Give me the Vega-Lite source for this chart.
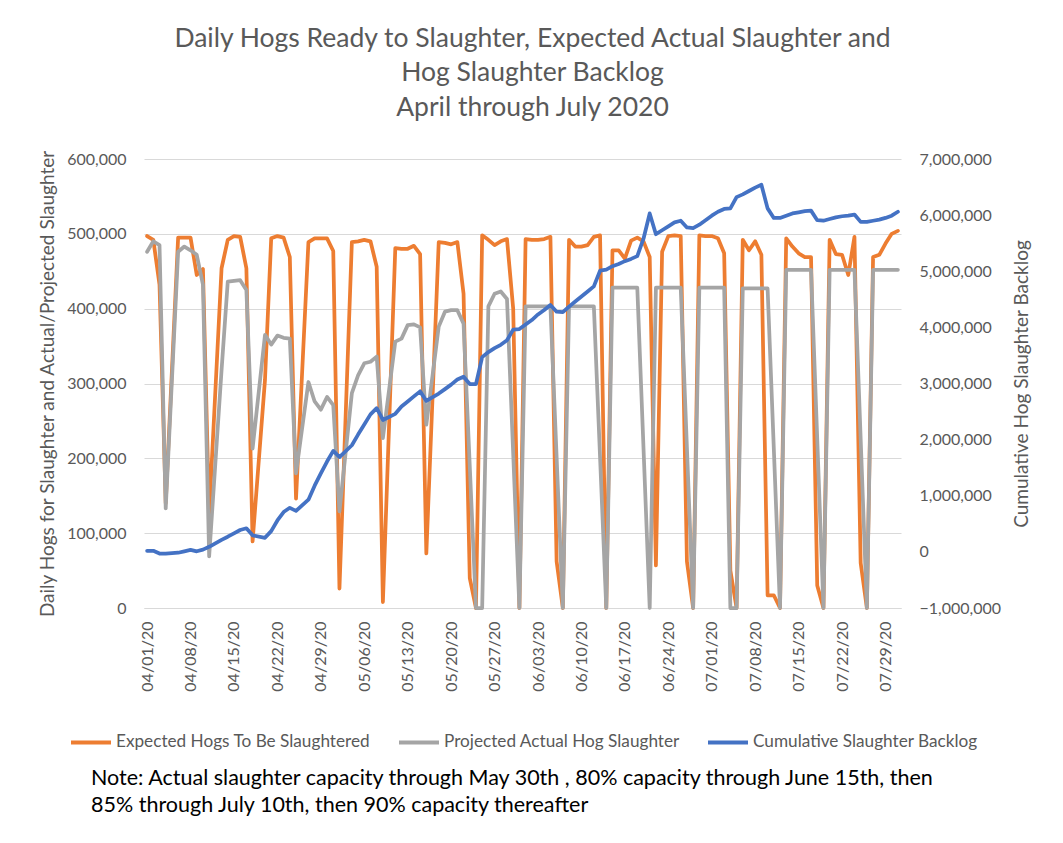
{
  "$schema": "https://vega.github.io/schema/vega-lite/v6.json",
  "width": 757,
  "height": 449,
  "autosize": {"type": "none"},
  "padding": {"left": 144, "top": 159, "right": 162, "bottom": 235},
  "background": "#ffffff",
  "title": {
    "text": ["Daily Hogs Ready to Slaughter, Expected Actual Slaughter and", "Hog Slaughter Backlog", "April through July 2020"],
    "font": "Lato",
    "fontSize": 26.5,
    "fontWeight": "normal",
    "color": "#595959",
    "lineHeight": 34.5,
    "offset": 28,
    "anchor": "middle",
    "dx": 10
  },
  "config": {
    "view": {"stroke": null},
    "font": "Lato",
    "axis": {
      "labelFont": "Lato",
      "titleFont": "Lato",
      "labelFontSize": 16,
      "labelColor": "#595959",
      "titleFontSize": 19,
      "titleColor": "#595959",
      "titleFontWeight": "normal",
      "ticks": false,
      "domain": false,
      "grid": false
    }
  },
  "data": {
    "values": [
      {"date": "2020-04-01T00:00", "exp": 497000, "act": 476000, "backlog": 20000},
      {"date": "2020-04-02T00:00", "exp": 492000, "act": 490000, "backlog": 20000},
      {"date": "2020-04-03T00:00", "exp": 432000, "act": 485000, "backlog": -30000},
      {"date": "2020-04-04T00:00", "exp": 140000, "act": 133000, "backlog": -30000},
      {"date": "2020-04-06T00:00", "exp": 495000, "act": 476000, "backlog": -15000},
      {"date": "2020-04-07T00:00", "exp": 495000, "act": 483000, "backlog": 10000},
      {"date": "2020-04-08T00:00", "exp": 495000, "act": 478000, "backlog": 35000},
      {"date": "2020-04-09T00:00", "exp": 445000, "act": 472000, "backlog": 10000},
      {"date": "2020-04-10T00:00", "exp": 453000, "act": 432000, "backlog": 40000},
      {"date": "2020-04-11T00:00", "exp": 125000, "act": 69000, "backlog": 90000},
      {"date": "2020-04-13T00:00", "exp": 454000, "act": 318000, "backlog": 215000},
      {"date": "2020-04-14T00:00", "exp": 492000, "act": 436000, "backlog": 270000},
      {"date": "2020-04-15T00:00", "exp": 497000, "act": 437000, "backlog": 330000},
      {"date": "2020-04-16T00:00", "exp": 496000, "act": 438000, "backlog": 390000},
      {"date": "2020-04-17T00:00", "exp": 454000, "act": 425000, "backlog": 420000},
      {"date": "2020-04-18T00:00", "exp": 89000, "act": 213000, "backlog": 295000},
      {"date": "2020-04-20T00:00", "exp": 305000, "act": 365000, "backlog": 250000},
      {"date": "2020-04-21T00:00", "exp": 494000, "act": 352000, "backlog": 370000},
      {"date": "2020-04-22T00:00", "exp": 497000, "act": 364000, "backlog": 560000},
      {"date": "2020-04-23T00:00", "exp": 495000, "act": 361000, "backlog": 710000},
      {"date": "2020-04-24T00:00", "exp": 469000, "act": 360000, "backlog": 785000},
      {"date": "2020-04-25T00:00", "exp": 146000, "act": 180000, "backlog": 730000},
      {"date": "2020-04-27T00:00", "exp": 489000, "act": 302000, "backlog": 930000},
      {"date": "2020-04-28T00:00", "exp": 494000, "act": 276000, "backlog": 1180000},
      {"date": "2020-04-29T00:00", "exp": 494000, "act": 265000, "backlog": 1400000},
      {"date": "2020-04-30T00:00", "exp": 494000, "act": 282000, "backlog": 1610000},
      {"date": "2020-05-01T00:00", "exp": 477000, "act": 271000, "backlog": 1800000},
      {"date": "2020-05-02T00:00", "exp": 26000, "act": 129000, "backlog": 1690000},
      {"date": "2020-05-04T00:00", "exp": 489000, "act": 287000, "backlog": 1900000},
      {"date": "2020-05-05T00:00", "exp": 490000, "act": 311000, "backlog": 2090000},
      {"date": "2020-05-06T00:00", "exp": 492000, "act": 327000, "backlog": 2270000},
      {"date": "2020-05-07T00:00", "exp": 490000, "act": 329000, "backlog": 2450000},
      {"date": "2020-05-08T00:00", "exp": 456000, "act": 336000, "backlog": 2560000},
      {"date": "2020-05-09T00:00", "exp": 8000, "act": 227000, "backlog": 2350000},
      {"date": "2020-05-11T00:00", "exp": 481000, "act": 356000, "backlog": 2460000},
      {"date": "2020-05-12T00:00", "exp": 480000, "act": 360000, "backlog": 2590000},
      {"date": "2020-05-13T00:00", "exp": 480000, "act": 378000, "backlog": 2680000},
      {"date": "2020-05-14T00:00", "exp": 484000, "act": 379000, "backlog": 2770000},
      {"date": "2020-05-15T00:00", "exp": 473000, "act": 375000, "backlog": 2860000},
      {"date": "2020-05-16T00:00", "exp": 73000, "act": 245000, "backlog": 2690000},
      {"date": "2020-05-18T00:00", "exp": 489000, "act": 376000, "backlog": 2820000},
      {"date": "2020-05-19T00:00", "exp": 488000, "act": 396000, "backlog": 2900000},
      {"date": "2020-05-20T00:00", "exp": 486000, "act": 398000, "backlog": 2980000},
      {"date": "2020-05-21T00:00", "exp": 489000, "act": 398000, "backlog": 3070000},
      {"date": "2020-05-22T00:00", "exp": 420000, "act": 380000, "backlog": 3120000},
      {"date": "2020-05-23T00:00", "exp": 40000, "act": null, "backlog": 2990000},
      {"date": "2020-05-24T00:00", "exp": 0, "act": 0, "backlog": 2990000},
      {"date": "2020-05-25T00:00", "exp": 498000, "act": 0, "backlog": 3470000},
      {"date": "2020-05-26T00:00", "exp": 492000, "act": 403000, "backlog": 3560000},
      {"date": "2020-05-27T00:00", "exp": 485000, "act": 420000, "backlog": 3630000},
      {"date": "2020-05-28T00:00", "exp": 490000, "act": 423000, "backlog": 3690000},
      {"date": "2020-05-29T00:00", "exp": 493000, "act": 413000, "backlog": 3770000},
      {"date": "2020-05-30T00:00", "exp": 400000, "act": null, "backlog": 3960000},
      {"date": "2020-05-31T00:00", "exp": 0, "act": 0, "backlog": 3970000},
      {"date": "2020-06-01T00:00", "exp": 493000, "act": 403000, "backlog": 4050000},
      {"date": "2020-06-02T00:00", "exp": 492000, "act": 403000, "backlog": 4130000},
      {"date": "2020-06-03T00:00", "exp": 492000, "act": 403000, "backlog": 4230000},
      {"date": "2020-06-04T00:00", "exp": 493000, "act": 403000, "backlog": 4310000},
      {"date": "2020-06-05T00:00", "exp": 496000, "act": 403000, "backlog": 4400000},
      {"date": "2020-06-06T00:00", "exp": 62000, "act": null, "backlog": 4280000},
      {"date": "2020-06-07T00:00", "exp": 0, "act": 0, "backlog": 4270000},
      {"date": "2020-06-08T00:00", "exp": 492000, "act": 403000, "backlog": 4370000},
      {"date": "2020-06-09T00:00", "exp": 483000, "act": 403000, "backlog": 4460000},
      {"date": "2020-06-10T00:00", "exp": 483000, "act": 403000, "backlog": 4550000},
      {"date": "2020-06-11T00:00", "exp": 485000, "act": 403000, "backlog": 4640000},
      {"date": "2020-06-12T00:00", "exp": 496000, "act": 403000, "backlog": 4730000},
      {"date": "2020-06-13T00:00", "exp": 498000, "act": null, "backlog": 5010000},
      {"date": "2020-06-14T00:00", "exp": 0, "act": 0, "backlog": 5030000},
      {"date": "2020-06-15T00:00", "exp": 478000, "act": 428000, "backlog": 5090000},
      {"date": "2020-06-16T00:00", "exp": 478000, "act": 428000, "backlog": 5130000},
      {"date": "2020-06-17T00:00", "exp": 467000, "act": 428000, "backlog": 5180000},
      {"date": "2020-06-18T00:00", "exp": 491000, "act": 428000, "backlog": 5220000},
      {"date": "2020-06-19T00:00", "exp": 495000, "act": 428000, "backlog": 5270000},
      {"date": "2020-06-20T00:00", "exp": 490000, "act": null, "backlog": 5580000},
      {"date": "2020-06-21T00:00", "exp": 469000, "act": 0, "backlog": 6030000},
      {"date": "2020-06-22T00:00", "exp": 57000, "act": 428000, "backlog": 5660000},
      {"date": "2020-06-23T00:00", "exp": 476000, "act": 428000, "backlog": 5730000},
      {"date": "2020-06-24T00:00", "exp": 497000, "act": 428000, "backlog": 5800000},
      {"date": "2020-06-25T00:00", "exp": 498000, "act": 428000, "backlog": 5870000},
      {"date": "2020-06-26T00:00", "exp": 497000, "act": 428000, "backlog": 5900000},
      {"date": "2020-06-27T00:00", "exp": 62000, "act": null, "backlog": 5780000},
      {"date": "2020-06-28T00:00", "exp": 0, "act": 0, "backlog": 5770000},
      {"date": "2020-06-29T00:00", "exp": 498000, "act": 428000, "backlog": 5830000},
      {"date": "2020-06-30T00:00", "exp": 497000, "act": 428000, "backlog": 5910000},
      {"date": "2020-07-01T00:00", "exp": 497000, "act": 428000, "backlog": 5990000},
      {"date": "2020-07-02T00:00", "exp": 494000, "act": 428000, "backlog": 6060000},
      {"date": "2020-07-03T00:00", "exp": 474000, "act": 428000, "backlog": 6110000},
      {"date": "2020-07-04T00:00", "exp": 50000, "act": 0, "backlog": 6120000},
      {"date": "2020-07-05T00:00", "exp": 0, "act": 0, "backlog": 6320000},
      {"date": "2020-07-06T00:00", "exp": 492000, "act": 427000, "backlog": 6370000},
      {"date": "2020-07-07T00:00", "exp": 478000, "act": 427000, "backlog": 6430000},
      {"date": "2020-07-08T00:00", "exp": 490000, "act": 427000, "backlog": 6490000},
      {"date": "2020-07-09T00:00", "exp": 472000, "act": 427000, "backlog": 6540000},
      {"date": "2020-07-10T00:00", "exp": 17000, "act": 427000, "backlog": 6120000},
      {"date": "2020-07-11T00:00", "exp": 17000, "act": null, "backlog": 5950000},
      {"date": "2020-07-12T00:00", "exp": 0, "act": 0, "backlog": 5950000},
      {"date": "2020-07-13T00:00", "exp": 494000, "act": 452000, "backlog": 5990000},
      {"date": "2020-07-14T00:00", "exp": 483000, "act": 452000, "backlog": 6030000},
      {"date": "2020-07-15T00:00", "exp": 474000, "act": 452000, "backlog": 6050000},
      {"date": "2020-07-16T00:00", "exp": 469000, "act": 452000, "backlog": 6070000},
      {"date": "2020-07-17T00:00", "exp": 469000, "act": 452000, "backlog": 6080000},
      {"date": "2020-07-18T00:00", "exp": 30000, "act": null, "backlog": 5910000},
      {"date": "2020-07-19T00:00", "exp": 0, "act": 0, "backlog": 5900000},
      {"date": "2020-07-20T00:00", "exp": 492000, "act": 452000, "backlog": 5930000},
      {"date": "2020-07-21T00:00", "exp": 473000, "act": 452000, "backlog": 5960000},
      {"date": "2020-07-22T00:00", "exp": 472000, "act": 452000, "backlog": 5980000},
      {"date": "2020-07-23T00:00", "exp": 445000, "act": 452000, "backlog": 5990000},
      {"date": "2020-07-24T00:00", "exp": 496000, "act": 452000, "backlog": 6010000},
      {"date": "2020-07-25T00:00", "exp": 60000, "act": null, "backlog": 5880000},
      {"date": "2020-07-26T00:00", "exp": 0, "act": 0, "backlog": 5880000},
      {"date": "2020-07-27T00:00", "exp": 469000, "act": 452000, "backlog": 5900000},
      {"date": "2020-07-28T00:00", "exp": 472000, "act": 452000, "backlog": 5920000},
      {"date": "2020-07-29T00:00", "exp": 487000, "act": 452000, "backlog": 5950000},
      {"date": "2020-07-30T00:00", "exp": 500000, "act": 452000, "backlog": 5990000},
      {"date": "2020-07-31T00:00", "exp": 504000, "act": 452000, "backlog": 6060000}
    ]
  },
  "encoding": {
    "x": {
      "field": "date",
      "type": "temporal",
      "scale": {"domain": [{"year": 2020, "month": 3, "date": 31, "hours": 12}, {"year": 2020, "month": 7, "date": 31, "hours": 12}]},
      "axis": {
        "title": null,
        "format": "%m/%d/%y",
        "labelAngle": -90,
        "labelPadding": 13,
        "domain": true,
        "domainColor": "#d9d9d9",
        "domainWidth": 1,
        "values": [
          {"year": 2020, "month": 4, "date": 1},
          {"year": 2020, "month": 4, "date": 8},
          {"year": 2020, "month": 4, "date": 15},
          {"year": 2020, "month": 4, "date": 22},
          {"year": 2020, "month": 4, "date": 29},
          {"year": 2020, "month": 5, "date": 6},
          {"year": 2020, "month": 5, "date": 13},
          {"year": 2020, "month": 5, "date": 20},
          {"year": 2020, "month": 5, "date": 27},
          {"year": 2020, "month": 6, "date": 3},
          {"year": 2020, "month": 6, "date": 10},
          {"year": 2020, "month": 6, "date": 17},
          {"year": 2020, "month": 6, "date": 24},
          {"year": 2020, "month": 7, "date": 1},
          {"year": 2020, "month": 7, "date": 8},
          {"year": 2020, "month": 7, "date": 15},
          {"year": 2020, "month": 7, "date": 22},
          {"year": 2020, "month": 7, "date": 29}
        ]
      }
    }
  },
  "layer": [
    {
      "layer": [
        {
          "transform": [{"filter": {"field": "exp", "valid": true}}],
          "mark": {"type": "line", "strokeWidth": 3.75, "strokeJoin": "round", "strokeCap": "round"},
          "encoding": {
            "y": {
              "field": "exp",
              "type": "quantitative",
              "scale": {"domain": [0, 600000], "nice": false},
              "axis": {
                "title": "Daily Hogs for Slaughter and Actual/Projected Slaughter",
                "values": [0, 100000, 200000, 300000, 400000, 500000, 600000],
                "format": ",.0f",
                "grid": true,
                "gridColor": "#d9d9d9",
                "gridWidth": 1,
                "labelPadding": 18,
                "titlePadding": 9
              }
            },
            "color": {
              "datum": "Expected Hogs To Be Slaughtered",
              "scale": {
                "domain": ["Expected Hogs To Be Slaughtered", "Projected Actual Hog Slaughter", "Cumulative Slaughter Backlog"],
                "range": ["#ED7D31", "#A5A5A5", "#4472C4"]
              },
              "legend": {
                "orient": "none",
                "legendX": -75,
                "legendY": 561,
                "direction": "horizontal",
                "symbolType": "stroke",
                "symbolStrokeWidth": 4,
                "symbolSize": 1600,
                "labelFont": "Lato",
                "labelFontSize": 17.2,
                "labelColor": "#595959",
                "labelLimit": 400,
                "labelOffset": 3,
                "columnPadding": 20,
                "title": ["\u200b\u00a0\u00a0\u00a0\u00a0Note: Actual slaughter capacity through May 30th , 80% capacity  through June 15th, then", "\u200b\u00a0\u00a0\u00a0\u00a085% through July 10th, then 90% capacity thereafter"],
                "titleOrient": "bottom",
                "titleAnchor": "start",
                "titleAlign": "left",
                "titleFont": "Lato",
                "titleFontSize": 21.5,
                "titleFontWeight": "normal",
                "titleColor": "#000000",
                "titleLimit": 1000,
                "titleLineHeight": 26.5,
                "titlePadding": 17
              }
            }
          }
        },
        {
          "transform": [{"filter": {"field": "act", "valid": true}}],
          "mark": {"type": "line", "strokeWidth": 3.75, "strokeJoin": "round", "strokeCap": "round"},
          "encoding": {
            "y": {
              "field": "act",
              "type": "quantitative",
              "scale": {"domain": [0, 600000], "nice": false},
              "axis": {
                "title": "Daily Hogs for Slaughter and Actual/Projected Slaughter",
                "values": [0, 100000, 200000, 300000, 400000, 500000, 600000],
                "format": ",.0f",
                "grid": true,
                "gridColor": "#d9d9d9",
                "gridWidth": 1,
                "labelPadding": 18,
                "titlePadding": 9
              }
            },
            "color": {"datum": "Projected Actual Hog Slaughter"}
          }
        }
      ]
    },
    {
      "transform": [{"filter": {"field": "backlog", "valid": true}}],
      "mark": {"type": "line", "strokeWidth": 3.75, "strokeJoin": "round", "strokeCap": "round"},
      "encoding": {
        "y": {
          "field": "backlog",
          "type": "quantitative",
          "scale": {"domain": [-1000000, 7000000], "nice": false},
          "axis": {
            "orient": "right",
            "title": "Cumulative Hog Slaughter Backlog",
            "values": [-1000000, 0, 1000000, 2000000, 3000000, 4000000, 5000000, 6000000, 7000000],
            "format": ",.0f",
            "grid": false,
            "labelPadding": 18,
            "titleAngle": 270,
            "titleBaseline": "top",
            "titlePadding": 12
          }
        },
        "color": {"datum": "Cumulative Slaughter Backlog"}
      }
    }
  ],
  "resolve": {"scale": {"y": "independent"}}
}
